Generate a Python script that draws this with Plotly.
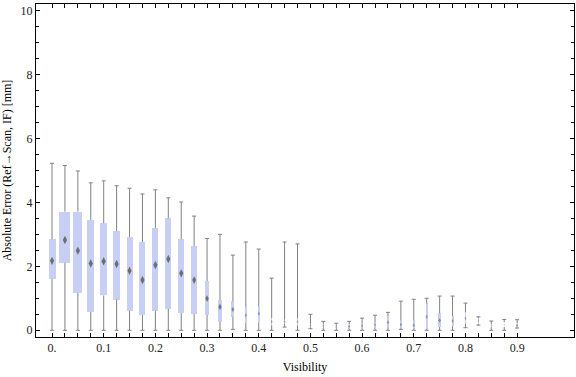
import plotly.graph_objects as go

visibility = [0.000, 0.025, 0.050, 0.075, 0.100, 0.125, 0.150, 0.175, 0.200, 0.225,
              0.250, 0.275, 0.300, 0.325, 0.350, 0.375, 0.400, 0.425, 0.450, 0.475,
              0.500, 0.525, 0.550, 0.575, 0.600, 0.625, 0.650, 0.675, 0.700, 0.725,
              0.750, 0.775, 0.800, 0.825, 0.850, 0.875, 0.900]
err_min = [0, 0, 0, 0, 0, 0, 0, 0, 0, 0,
           0, 0, 0, 0, 0.03, 0, 0, 0, 0.10, 0,
           0.05, 0, 0, 0, 0, 0, 0, 0.03, 0, 0,
           0, 0, 0.08, 0.16, 0, 0, 0.07]
err_q1 = [1.61, 2.11, 1.17, 0.57, 1.09, 0.96, 0.61, 0.48, 0.61, 0.67,
          0.54, 0.51, 0.48, 0.26, 0.42, 0.25, 0.25, 0.16, 0.20, 0.15,
          0.10, 0.08, 0.05, 0.05, 0.07, 0.10, 0.10, 0.08, 0.05, 0.05,
          0.10, 0.13, 0.21, 0.20, 0.10, 0.10, 0.08]
err_median = [2.17, 2.82, 2.49, 2.09, 2.16, 2.07, 1.86, 1.57, 2.04, 2.23,
              1.78, 1.57, 0.99, 0.73, 0.65, 0.47, 0.52, 0.27, 0.27, 0.27,
              0.15, 0.14, 0.10, 0.12, 0.14, 0.17, 0.25, 0.18, 0.16, 0.42,
              0.31, 0.29, 0.37, 0.30, 0.15, 0.17, 0.15]
err_q3 = [2.85, 3.71, 3.71, 3.45, 3.35, 3.10, 2.92, 2.76, 3.20, 3.50,
          2.85, 2.63, 1.54, 0.94, 0.91, 0.73, 0.73, 0.38, 0.34, 0.38,
          0.20, 0.20, 0.15, 0.18, 0.22, 0.25, 0.42, 0.31, 0.31, 0.84,
          0.53, 0.44, 0.565, 0.38, 0.20, 0.25, 0.21]
err_max = [5.22, 5.15, 4.98, 4.61, 4.67, 4.52, 4.44, 4.26, 4.39, 4.14,
           4.01, 3.57, 2.87, 3.00, 2.35, 2.76, 2.54, 1.63, 2.76, 2.70,
           0.50, 0.28, 0.22, 0.28, 0.38, 0.47, 0.56, 0.91, 0.97, 1.00,
           1.07, 1.07, 0.85, 0.42, 0.29, 0.34, 0.33]
# relative box width (grows with sample count), in pixels of the original
box_px = [7, 11, 9, 7, 7, 7, 6, 6, 6, 6,
          6, 5.3, 4.3, 4, 3, 2, 2, 1.5, 1.5, 1.5,
          1.2, 1.5, 1.5, 1.5, 1.5, 1.5, 2, 2, 2, 2,
          2.5, 2, 1.5, 1, 0.5, 0.5, 1.5]

major_ticks = [0.0, 0.1, 0.2, 0.3, 0.4, 0.5, 0.6, 0.7, 0.8, 0.9]
major_labels = ["0.", "0.1", "0.2", "0.3", "0.4", "0.5", "0.6", "0.7", "0.8", "0.9"]
y_ticks = [0, 2, 4, 6, 8, 10]

X_RANGE = [-0.031, 1.01]
Y_RANGE = [-0.21, 10.2]
PLOT_W = 576 - 36 - 2
px2x = (X_RANGE[1] - X_RANGE[0]) / PLOT_W

FONT = "Liberation Serif"
BOX_COL = "#c8cff5"
WHISK_COL = "#808080"

# whisker segments (outside the boxes) and caps
wx, wy = [], []
cap = 2.0 * px2x
for v, lo, q1, q3, hi in zip(visibility, err_min, err_q1, err_q3, err_max):
    wx += [v, v, None, v, v, None]
    wy += [lo, q1, None, q3, hi, None]
    wx += [v - cap, v + cap, None, v - cap, v + cap, None]
    wy += [lo, lo, None, hi, hi, None]

fig = go.Figure()
fig.add_trace(go.Bar(
    x=visibility, base=err_q1,
    y=[b - a for a, b in zip(err_q1, err_q3)],
    width=[w * px2x for w in box_px],
    marker=dict(color=BOX_COL, line=dict(width=0)),
    hoverinfo="skip", showlegend=False))
fig.add_trace(go.Scatter(
    x=wx, y=wy, mode="lines",
    line=dict(color=WHISK_COL, width=1),
    hoverinfo="skip", showlegend=False))
fig.add_trace(go.Scatter(
    x=visibility, y=err_median, mode="markers",
    marker=dict(symbol="diamond-tall", color="#6e6e6e",
                size=[min(6, 1.5 + w * 0.75) for w in box_px],
                opacity=[min(1.0, 0.3 + w / 6) for w in box_px],
                line=dict(width=0)),
    hoverinfo="skip", showlegend=False))

axis_common = dict(
    showline=True, linecolor="black", linewidth=1, mirror="ticks",
    ticks="inside", tickcolor="black", tickwidth=1,
    showgrid=False, zeroline=False, automargin=False,
    tickfont=dict(family=FONT, size=12, color="#222222"),
)

fig.update_layout(
    width=576, height=377,
    margin=dict(l=36, r=2, t=4, b=40),
    paper_bgcolor="white", plot_bgcolor="white",
    barmode="overlay", bargap=0,
    font=dict(family=FONT, size=12, color="black"),
    xaxis=dict(
        **axis_common,
        range=X_RANGE,
        tickmode="array", tickvals=major_ticks, ticktext=major_labels,
        ticklen=4,
        minor=dict(tickmode="array", tickvals=visibility, ticks="inside",
                   ticklen=4, tickcolor="black", tickwidth=1, showgrid=False),
        title=dict(text="Visibility", font=dict(family=FONT, size=12), standoff=8),
    ),
    yaxis=dict(
        **axis_common,
        range=Y_RANGE,
        tickmode="array", tickvals=y_ticks,
        ticklen=4,
        minor=dict(dtick=0.5, tick0=0, ticks="inside", ticklen=3,
                   tickcolor="black", tickwidth=1, showgrid=False),
        title=dict(text="Absolute Error (Ref\u2192Scan, IF) [mm]",
                   font=dict(family=FONT, size=12), standoff=10),
    ),
)

fig.write_html("out.html",
               config={"displayModeBar": False, "staticPlot": True},
               post_script="document.body.style.margin='0';document.body.style.padding='0';")
